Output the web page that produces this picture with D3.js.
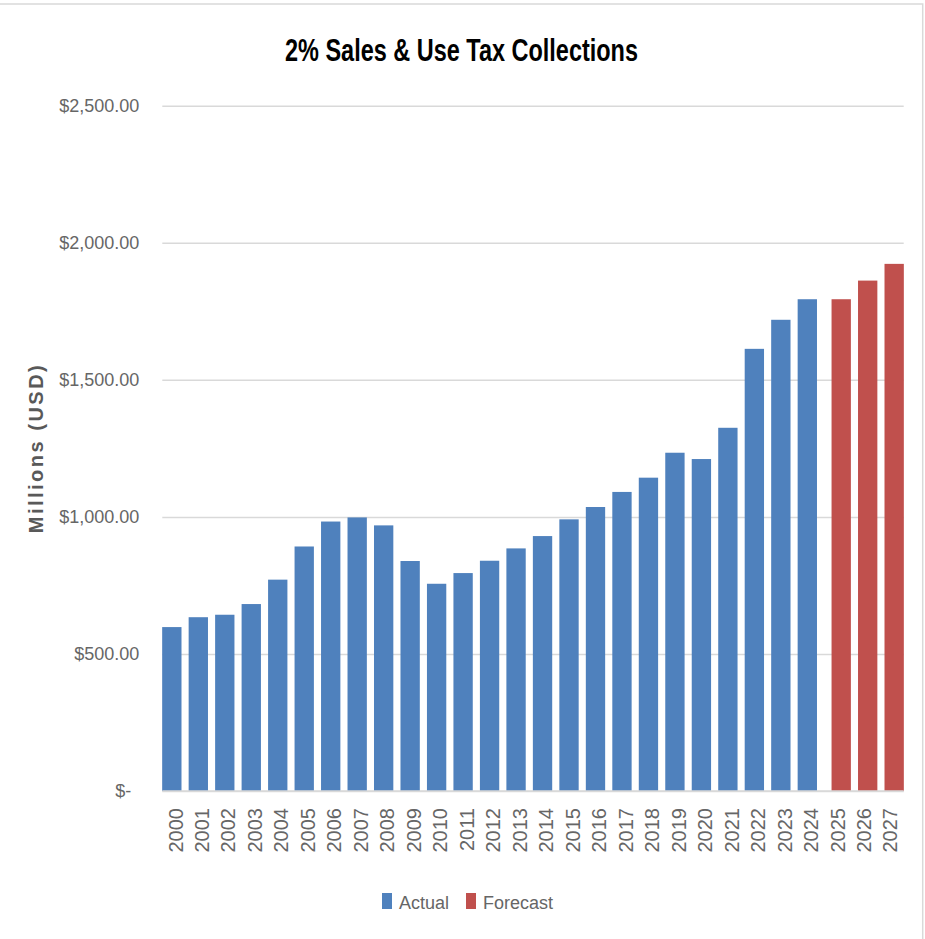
<!DOCTYPE html>
<html>
<head>
<meta charset="utf-8">
<script src="https://cdn.jsdelivr.net/npm/d3@7"></script>
<style>
	body { margin: 0; background: #fff; }
	text { font-family: "Liberation Sans", Arial, sans-serif; }
</style>
</head>
<body>
<div id="chart"></div>
<script>
// Data (millions USD)
var years = ["2000", "2001", "2002", "2003", "2004", "2005", "2006", "2007", "2008", "2009",
	"2010", "2011", "2012", "2013", "2014", "2015", "2016", "2017", "2018", "2019",
	"2020", "2021", "2022", "2023", "2024", "2025", "2026", "2027"];
var actual = [598, 634, 643, 682, 771, 892, 983, 998, 969, 839,
	756, 795, 840, 885, 930, 991, 1036, 1091, 1143, 1234,
	1211, 1325, 1613, 1719, 1794, null, null, null];
var forecast = [null, null, null, null, null, null, null, null, null, null,
	null, null, null, null, null, null, null, null, null, null,
	null, null, null, null, null, 1794, 1862, 1923];
var yTicks = [0, 500, 1000, 1500, 2000, 2500];
var seriesNames = ["Actual", "Forecast"];
var seriesColors = ["#4F81BD", "#C0504D"];

var W = 925, H = 939;
var plot = {left: 162.3, right: 903.7, top: 105.7, bottom: 791};

var svg = d3.select("#chart").append("svg")
	.attr("width", W)
	.attr("height", H);

// chart area border (only top and right show in the shot)
svg.append("rect")
	.attr("x", -2)
	.attr("y", 4)
	.attr("width", 924.7)
	.attr("height", H + 10)
	.attr("fill", "none")
	.attr("stroke", "#D9D9D9")
	.attr("stroke-width", 1.5);

// Scales
var xScale = d3.scaleBand().domain(years).range([plot.left, plot.right]).padding(0),
	yScale = d3.scaleLinear().domain([0, 2500]).range([plot.bottom, plot.top]);

var bw = xScale.bandwidth(),
	barW = bw * 0.73,
	shift = bw * 0.14;   // the two series overlap, each sits a little off centre

function money(d) {
	return d === 0 ? "$-" : "$" + d3.format(",.2f")(d);
}

// y axis + gridlines
var yAxis = d3.axisLeft(yScale)
	.tickValues(yTicks)
	.tickSizeInner(-(plot.right - plot.left))
	.tickSizeOuter(0)
	.tickPadding(23)
	.tickFormat(money);

var gy = svg.append("g")
	.attr("class", "y axis")
	.attr("transform", "translate(" + plot.left + ",0)")
	.call(yAxis);
gy.select(".domain").remove();
gy.selectAll(".tick line")
	.attr("stroke", "#D9D9D9")
	.attr("stroke-width", 1.5);
gy.selectAll(".tick text")
	.attr("fill", "#666666")
	.style("font-size", "18px")
	.attr("dx", function(d) { return d === 0 ? -8 : 0; });

// bars, one group per series
var series = [actual, forecast];
series.forEach(function(vals, si) {
	var rows = years.map(function(y, i) { return {year: y, value: vals[i]}; })
		.filter(function(d) { return d.value != null; });
	svg.append("g")
		.attr("class", "bars " + seriesNames[si])
		.selectAll("rect")
		.data(rows)
		.enter().append("rect")
		.attr("x", function(d) { return xScale(d.year) + bw / 2 - barW / 2 + (si === 0 ? -shift : shift); })
		.attr("y", function(d) { return yScale(d.value); })
		.attr("width", barW)
		.attr("height", function(d) { return yScale(0) - yScale(d.value); })
		.attr("fill", seriesColors[si]);
});

// baseline
svg.append("line")
	.attr("x1", plot.left)
	.attr("x2", plot.right)
	.attr("y1", yScale(0))
	.attr("y2", yScale(0))
	.attr("stroke", "#D9D9D9")
	.attr("stroke-width", 1.5);

// x labels, rotated
svg.append("g")
	.attr("class", "x labels")
	.selectAll("text")
	.data(years)
	.enter().append("text")
	.attr("transform", function(d) { return "translate(" + (xScale(d) + bw / 2) + ",808) rotate(-90)"; })
	.attr("text-anchor", "end")
	.attr("dy", "0.35em")
	.attr("fill", "#666666")
	.style("font-size", "20px")
	.text(function(d) { return d; });

// title
svg.append("text")
	.attr("x", 461.5)
	.attr("y", 61)
	.attr("text-anchor", "middle")
	.attr("textLength", 353)
	.attr("lengthAdjust", "spacingAndGlyphs")
	.style("font-size", "32px")
	.style("font-weight", "bold")
	.attr("fill", "#000")
	.text("2% Sales & Use Tax Collections");

// y axis label
svg.append("text")
	.attr("transform", "translate(36,448) rotate(-90)")
	.attr("text-anchor", "middle")
	.attr("dy", "0.35em")
	.style("font-size", "20px")
	.style("font-weight", "bold")
	.style("letter-spacing", "2.5px")
	.attr("fill", "#595959")
	.text("Millions (USD)");

// legend
var legendX = [382, 466];
var legend = svg.append("g").attr("class", "legend");
seriesNames.forEach(function(name, i) {
	legend.append("rect")
		.attr("x", legendX[i])
		.attr("y", 893)
		.attr("width", 10)
		.attr("height", 16)
		.attr("fill", seriesColors[i]);
	legend.append("text")
		.attr("x", legendX[i] + 17)
		.attr("y", 909)
		.attr("fill", "#666666")
		.style("font-size", "18px")
		.text(name);
});
</script>
</body>
</html>
